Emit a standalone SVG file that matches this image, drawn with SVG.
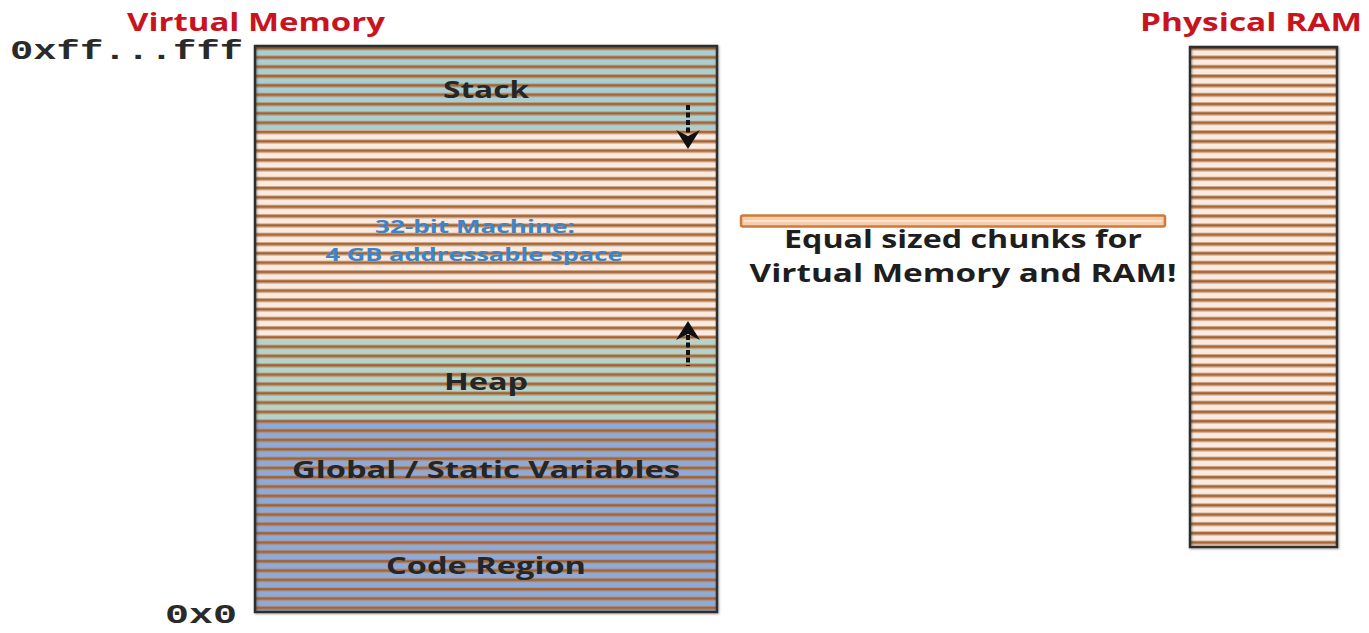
<svg xmlns="http://www.w3.org/2000/svg" width="1369" height="633" viewBox="0 0 1369 633">
<style>
.title{font-family:"Open Sans","Liberation Sans",sans-serif;font-weight:bold;fill:#c8141e;font-size:25px}
.addr{font-family:"Liberation Mono",monospace;font-weight:bold;fill:#2a2a2a;font-size:27px}
.lbl{font-family:"Open Sans","Liberation Sans",sans-serif;font-weight:bold;fill:#262626;font-size:24px}
.blue{font-family:"Open Sans","Liberation Sans",sans-serif;font-weight:bold;fill:#3f84c4;font-size:18px}
.note{font-family:"Open Sans","Liberation Sans",sans-serif;font-weight:bold;fill:#1e1e1e;font-size:25px}
.box{fill:none;stroke:#2e2e2e;stroke-width:2.5}
.arrow{stroke:#111;stroke-width:4;stroke-dasharray:5 2.5;fill:none}
</style>
<defs>
<pattern id="stripe" patternUnits="userSpaceOnUse" x="0" y="46" width="20" height="9.33">
<rect x="0" y="0" width="20" height="1" fill="#b7825a" opacity="0.6"/>
<rect x="0" y="1" width="20" height="2.4" fill="#a4622e"/>
<rect x="0" y="3.4" width="20" height="1" fill="#b7825a" opacity="0.6"/>
</pattern>
<filter id="sh" x="-5%" y="-5%" width="110%" height="110%"><feGaussianBlur stdDeviation="1.2"/></filter>
</defs>
<g id="virtual-memory">
<rect x="255" y="46" width="462" height="84" fill="#a9cfd3"/>
<rect x="255" y="130" width="462" height="210" fill="#f9ebe1"/>
<rect x="255" y="340" width="462" height="82" fill="#b3d3cb"/>
<rect x="255" y="422" width="462" height="190" fill="#8eaad9"/>
<rect x="255" y="46" width="462" height="566" fill="url(#stripe)"/>
<rect x="256" y="47" width="462" height="566" class="box" stroke="#999" opacity="0.4" filter="url(#sh)"/>
<rect x="255" y="46" width="462" height="566" class="box"/>
</g>
<g id="stack"><text class="lbl" x="486" y="98" text-anchor="middle" textLength="86" lengthAdjust="spacingAndGlyphs">Stack</text></g>
<g id="free-space">
<text class="blue" x="475" y="233" text-anchor="middle" textLength="200" lengthAdjust="spacingAndGlyphs">32-bit Machine:</text>
<text class="blue" x="474" y="261" text-anchor="middle" textLength="297" lengthAdjust="spacingAndGlyphs">4 GB addressable space</text>
</g>
<g id="heap"><text class="lbl" x="486" y="390" text-anchor="middle" textLength="84" lengthAdjust="spacingAndGlyphs">Heap</text></g>
<g id="globals"><text class="lbl" x="486" y="478" text-anchor="middle" textLength="388" lengthAdjust="spacingAndGlyphs">Global / Static Variables</text></g>
<g id="code"><text class="lbl" x="486" y="574" text-anchor="middle" textLength="200" lengthAdjust="spacingAndGlyphs">Code Region</text></g>
<g id="labels">
<text class="title" x="256" y="31" text-anchor="middle" textLength="258" lengthAdjust="spacingAndGlyphs">Virtual Memory</text>
<text class="addr" x="10" y="59" textLength="233" lengthAdjust="spacingAndGlyphs">0xff...fff</text>
<text class="addr" x="165" y="623" textLength="72" lengthAdjust="spacingAndGlyphs">0x0</text>
<text class="title" x="1251" y="31" text-anchor="middle" textLength="222" lengthAdjust="spacingAndGlyphs">Physical RAM</text>
</g>
<g id="physical-ram">
<rect x="1190" y="47" width="147" height="500" fill="#f9ebe1"/>
<rect x="1190" y="47" width="147" height="500" fill="url(#stripe)"/>
<rect x="1191" y="48" width="147" height="500" class="box" stroke="#999" opacity="0.4" filter="url(#sh)"/>
<rect x="1190" y="47" width="147" height="500" class="box"/>
</g>
<g id="chunk">
<rect x="741" y="215.5" width="424" height="11" rx="2" fill="#f6cdab" stroke="#d0793a" stroke-width="2.5"/>
<line x1="744" y1="221" x2="1162" y2="221" stroke="#fbe3d0" stroke-width="2"/>
<text class="note" x="963" y="248" text-anchor="middle" textLength="358" lengthAdjust="spacingAndGlyphs">Equal sized chunks for</text>
<text class="note" x="963" y="282" text-anchor="middle" textLength="427" lengthAdjust="spacingAndGlyphs">Virtual Memory and RAM!</text>
</g>
<g id="connectors">
<line class="arrow" x1="688" y1="105" x2="688" y2="135"/>
<polygon points="676,130 688,136 700,130 688,149" fill="#111"/>
<line class="arrow" x1="688" y1="335" x2="688" y2="366"/>
<polygon points="676,340 688,334 700,340 688,321" fill="#111"/>
</g>
</svg>
